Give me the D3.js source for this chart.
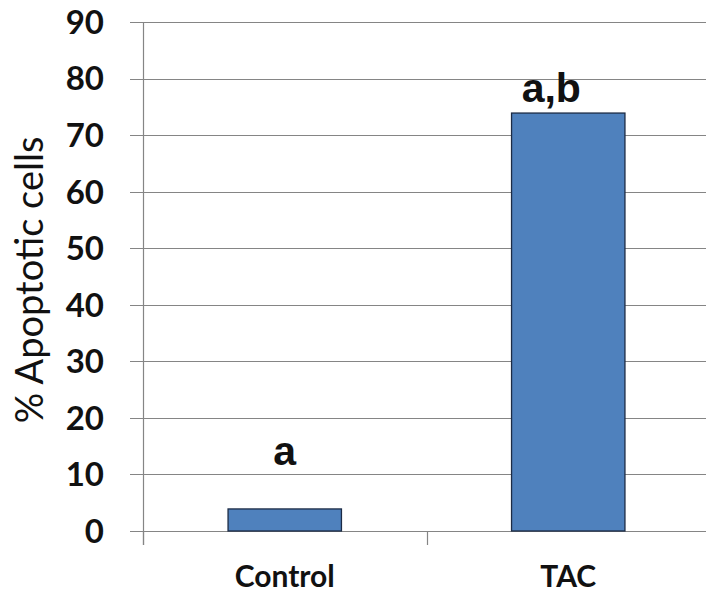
<!DOCTYPE html>
<html>
<head>
<meta charset="utf-8">
<script src="https://cdn.jsdelivr.net/npm/d3@7"></script>
<style>
  html, body { margin: 0; padding: 0; background: #ffffff; }
  svg { display: block; }
</style>
</head>
<body>
<script>
// ---- data ----
const categories = ["Control", "TAC"];
const values = [3.9, 73.9];
const annotations = ["a", "a,b"];
const annotationLevels = [11.7, 75.9];   // height (in % units) where each annotation sits
const yTicks = [0, 10, 20, 30, 40, 50, 60, 70, 80, 90];
const yLabel = "% Apoptotic cells";

// ---- layout ----
const W = 706, H = 598;
const plotLeft = 143, plotRight = 710, plotTop = 22, plotBottom = 531;

const svg = d3.select("body").append("svg").attr("width", W).attr("height", H);

const x = d3.scaleBand().domain(categories).range([plotLeft, plotRight])
  .paddingInner(0.6).paddingOuter(0.3);
const y = d3.scaleLinear().domain([0, 90]).range([plotBottom, plotTop]);

const gridColor = "#858585";

// gridlines (extend left past axis like tick marks)
svg.append("g").selectAll("line").data(yTicks).join("line")
  .attr("x1", plotLeft - 13).attr("x2", plotRight)
  .attr("y1", d => Math.round(y(d)) + 0.5).attr("y2", d => Math.round(y(d)) + 0.5)
  .attr("stroke", gridColor).attr("stroke-width", 1.2);

// y axis line
svg.append("line")
  .attr("x1", plotLeft + 0.5).attr("x2", plotLeft + 0.5)
  .attr("y1", plotTop).attr("y2", plotBottom + 14)
  .attr("stroke", gridColor).attr("stroke-width", 1.2);

// x category boundary ticks
const step = x.step();
const boundaries = d3.range(categories.length + 1).map(i => plotLeft + i * step);
svg.append("g").selectAll("line").data(boundaries).join("line")
  .attr("x1", d => Math.round(d) + 0.5).attr("x2", d => Math.round(d) + 0.5)
  .attr("y1", plotBottom).attr("y2", plotBottom + 14)
  .attr("stroke", gridColor).attr("stroke-width", 1.2);

// y tick labels
svg.append("g").selectAll("text").data(yTicks).join("text")
  .attr("x", 104).attr("y", d => y(d))
  .attr("dy", "0.36em")
  .attr("text-anchor", "end")
  .attr("font-family", "Lato, 'Noto Sans', sans-serif")
  .attr("font-weight", "bold")
  .attr("font-size", 33)
  .attr("fill", "#111")
  .text(d => d);

// bars
svg.append("g").selectAll("rect").data(values).join("rect")
  .attr("x", (d, i) => x(categories[i]))
  .attr("y", d => y(d))
  .attr("width", x.bandwidth())
  .attr("height", d => y(0) - y(d))
  .attr("fill", "#4f81bd")
  .attr("stroke", "#1c2b45")
  .attr("stroke-width", 1.3);

// x category labels
svg.append("g").selectAll("text").data(categories).join("text")
  .attr("x", d => x(d) + x.bandwidth() / 2)
  .attr("y", 587)
  .attr("text-anchor", "middle")
  .attr("font-family", "Lato, 'Noto Sans', sans-serif")
  .attr("font-weight", "bold")
  .attr("font-size", 30)
  .attr("fill", "#111")
  .text(d => d);

// annotations
const annotationShift = [0, -17];
svg.append("g").selectAll("text").data(annotations).join("text")
  .attr("x", (d, i) => x(categories[i]) + x.bandwidth() / 2 + annotationShift[i])
  .attr("y", (d, i) => y(annotationLevels[i]))
  .attr("text-anchor", "middle")
  .attr("font-family", "'Liberation Sans', Arial, sans-serif")
  .attr("font-weight", "bold")
  .attr("font-size", 41)
  .attr("fill", "#111")
  .text(d => d);

// y axis title
svg.append("text")
  .attr("transform", `translate(43, 280) rotate(-90)`)
  .attr("text-anchor", "middle")
  .attr("font-family", "Lato, 'Noto Sans', sans-serif")
  .attr("font-size", 38)
  .attr("fill", "#111")
  .text(yLabel);
</script>
</body>
</html>
